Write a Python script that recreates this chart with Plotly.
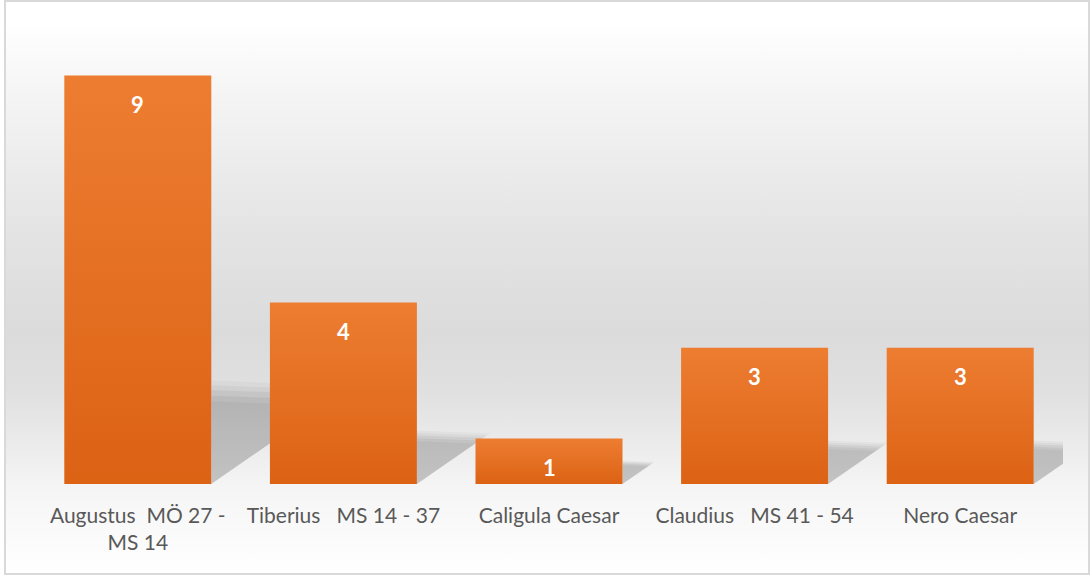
import base64
import plotly.graph_objects as go

categories = ["Augustus \u00a0MÖ 27 -<br>MS 14", "Tiberius \u00a0 MS 14 - 37", "Caligula Caesar",
              "Claudius \u00a0 MS 41 - 54", "Nero Caesar"]
values = [9, 4, 1, 3, 3]
positions = list(range(len(categories)))

W, H = 1091, 576
ML, MR, MT, MB = 35, 28, 30, 92
PW, PH = W - ML - MR, H - MT - MB

BAR_W = 0.715
TOP_COLOR = "#ED7D31"
BOTTOM_COLOR = "#DC6214"

# Background gradient + border as an SVG image
svg = f'''<svg xmlns="http://www.w3.org/2000/svg" width="{W}" height="{H}" viewBox="0 0 {W} {H}">
<defs><linearGradient id="g" x1="0" y1="0" x2="0" y2="1">
<stop offset="0" stop-color="#ffffff"/>
<stop offset="0.04" stop-color="#ffffff"/>
<stop offset="0.17" stop-color="#f4f4f4"/>
<stop offset="0.40" stop-color="#e4e4e4"/>
<stop offset="0.58" stop-color="#dbdbdb"/>
<stop offset="0.68" stop-color="#e0e0e0"/>
<stop offset="0.78" stop-color="#ececec"/>
<stop offset="0.85" stop-color="#f5f5f5"/>
<stop offset="1" stop-color="#ffffff"/>
</linearGradient></defs>
<rect x="5" y="1" width="{W-7}" height="{H-3}" fill="url(#g)" stroke="#d9d9d9" stroke-width="2"/>
</svg>'''
src = "data:image/svg+xml;base64," + base64.b64encode(svg.encode()).decode()

fig = go.Figure()

# soft shadows derived from data (wedge cast to the right of each bar)
shapes = []
for x, v in zip(positions, values):
    xr = x + BAR_W / 2
    sh = v * 0.2 + 0.27
    D = sh / 3.3
    for scale, op in [(1.10, 0.03), (1.05, 0.04), (1.0, 0.05), (0.94, 0.05), (0.88, 0.04)]:
        top = sh * scale
        path = (f"M {xr},0 L {xr},{top} L {xr + D*scale},{top*0.95} Z")
        shapes.append(dict(type="path", path=path, xref="x", yref="y",
                           fillcolor="rgba(0,0,0,1)", opacity=op,
                           line=dict(width=0), layer="below"))

# bars drawn as filled polygons with a vertical gradient
for x, v in zip(positions, values):
    x0, x1 = x - BAR_W / 2, x + BAR_W / 2
    fig.add_trace(go.Scatter(
        x=[x0, x1, x1, x0, x0], y=[0, 0, v, v, 0],
        mode="lines", fill="toself", line=dict(width=0, color=BOTTOM_COLOR),
        fillgradient=dict(type="vertical", start=0, stop=v,
                          colorscale=[[0, BOTTOM_COLOR], [1, TOP_COLOR]]),
        hoverinfo="skip",
    ))

annotations = [dict(x=x, y=v, text=f"<b>{v}</b>", showarrow=False, xref="x", yref="y",
                    yanchor="middle", yshift=-29,
                    font=dict(family="Lato", size=22, color="#ffffff"))
               for x, v in zip(positions, values)]

fig.update_layout(
    width=W, height=H,
    margin=dict(l=ML, r=MR, t=MT, b=MB),
    paper_bgcolor="rgba(0,0,0,0)",
    plot_bgcolor="rgba(0,0,0,0)",
    showlegend=False,
    shapes=shapes,
    annotations=annotations,
    images=[dict(source=src, xref="paper", yref="paper",
                 x=-ML / PW, y=1 + MT / PH, sizex=W / PW, sizey=H / PH,
                 xanchor="left", yanchor="top", sizing="stretch", layer="below")],
    xaxis=dict(range=[-0.5, len(categories) - 0.5], tickvals=positions, ticktext=categories,
               showgrid=False, zeroline=False, showline=False, ticks="",
               tickfont=dict(family="Lato", size=21, color="#595959"),
               ticklabelstandoff=17, fixedrange=True),
    yaxis=dict(range=[0, 10], visible=False, showgrid=False, zeroline=False, fixedrange=True),
)

fig.write_html("out.html", config={"displayModeBar": False},
               post_script="document.body.style.margin='0';")
